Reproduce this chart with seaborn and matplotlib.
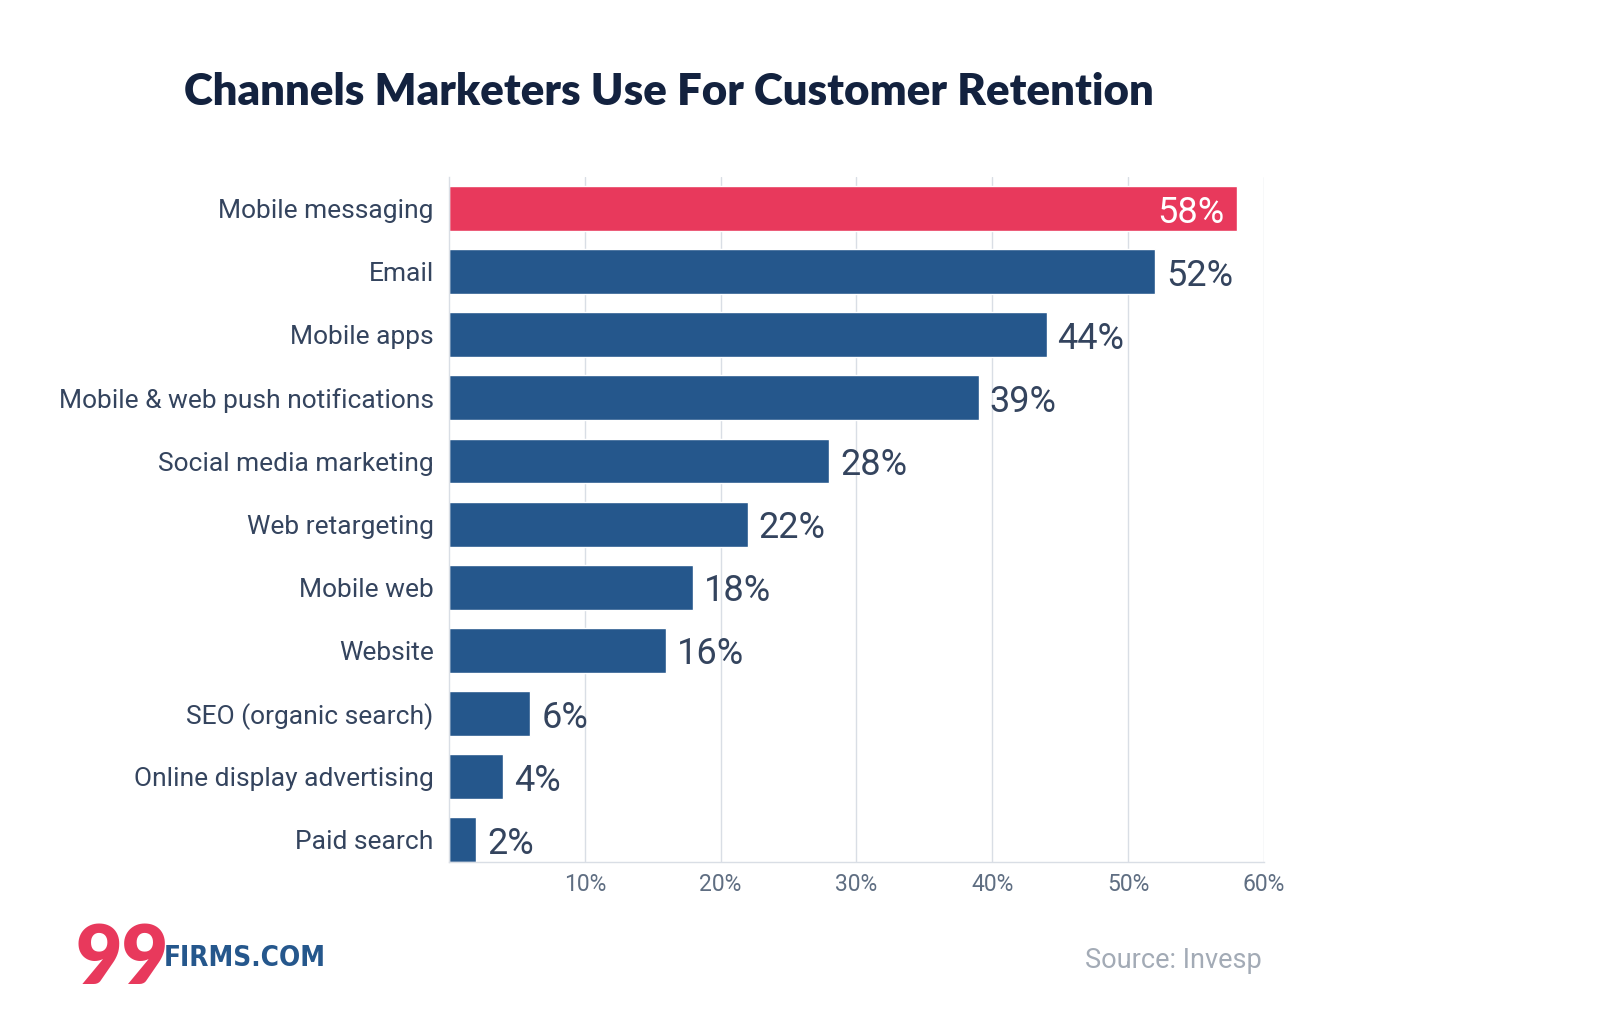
import numpy as np
import pandas as pd
import matplotlib.pyplot as plt
import seaborn as sns

# data
channels = ['Mobile messaging', 'Email', 'Mobile apps', 'Mobile & web push notifications',
            'Social media marketing', 'Web retargeting', 'Mobile web', 'Website',
            'SEO (organic search)', 'Online display advertising', 'Paid search']
share = [58, 52, 44, 39, 28, 22, 18, 16, 6, 4, 2]
xticks = [10, 20, 30, 40, 50, 60]

red = '#E8395C'
blue = '#25578C'
grid_col = '#D9DEE5'
label_col = '#34445E'

sns.set_theme(style='white')
plt.rcParams['font.family'] = ['Roboto', 'DejaVu Sans']

df = pd.DataFrame({'channel': channels, 'share': share})
colors = [red] + [blue] * (len(channels) - 1)

fig = plt.figure(figsize=(16, 10.35), dpi=100)
ax = fig.add_axes([0.2806, 0.167, 0.5094, 0.662])

sns.barplot(data=df, x='share', y='channel', hue='channel', palette=colors,
            legend=False, width=0.71, orient='h', ax=ax, saturation=1)

ax.set_xlim(0, 60)
ax.set_ylim(10.355, -0.5)
ax.set_xticks(xticks)
ax.set_xticklabels([f'{t}%' for t in xticks], fontsize=16.5, color='#5F6E82')
ax.tick_params(axis='x', length=0, pad=8)
ax.tick_params(axis='y', length=0, pad=11, labelsize=19, labelcolor=label_col)
ax.set_xlabel('')
ax.set_ylabel('')
ax.set_axisbelow(True)
for t in xticks:
    ax.axvline(t, color=grid_col, lw=1, zorder=0)
for side in ['top', 'right']:
    ax.spines[side].set_visible(False)
for side in ['left', 'bottom']:
    ax.spines[side].set_color(grid_col)
    ax.spines[side].set_linewidth(1)

# value labels
for i, v in enumerate(share):
    if i == 0:
        ax.text(v - 0.9, i, f'{v}%', ha='right', va='center_baseline', fontsize=26, color='white')
    else:
        ax.text(v + 0.8, i, f'{v}%', ha='left', va='center_baseline', fontsize=26, color=label_col)

fig.text(184 / 1600, 1 - 92 / 1035, 'Channels Marketers Use For Customer Retention',
         fontsize=31.5, fontweight='heavy', color='#13223F', family=['Lato', 'DejaVu Sans'],
         ha='left', va='center')

# logo
fig.text(75 / 1600, 1 - 960 / 1035, '99', fontsize=58, fontweight='heavy', color=red,
         family=['Lato', 'DejaVu Sans'], ha='left', va='center')
fig.text(164 / 1600, 1 - 958 / 1035, 'FIRMS.COM', fontsize=20, fontweight='bold', color=blue,
         family=['DejaVu Sans'], fontstretch='condensed', ha='left', va='center')

fig.text(1262 / 1600, 1 - 961 / 1035, 'Source: Invesp', fontsize=19.5, color='#A3ABB6',
         ha='right', va='center')

fig.savefig('out.png', dpi=100, facecolor='white')
